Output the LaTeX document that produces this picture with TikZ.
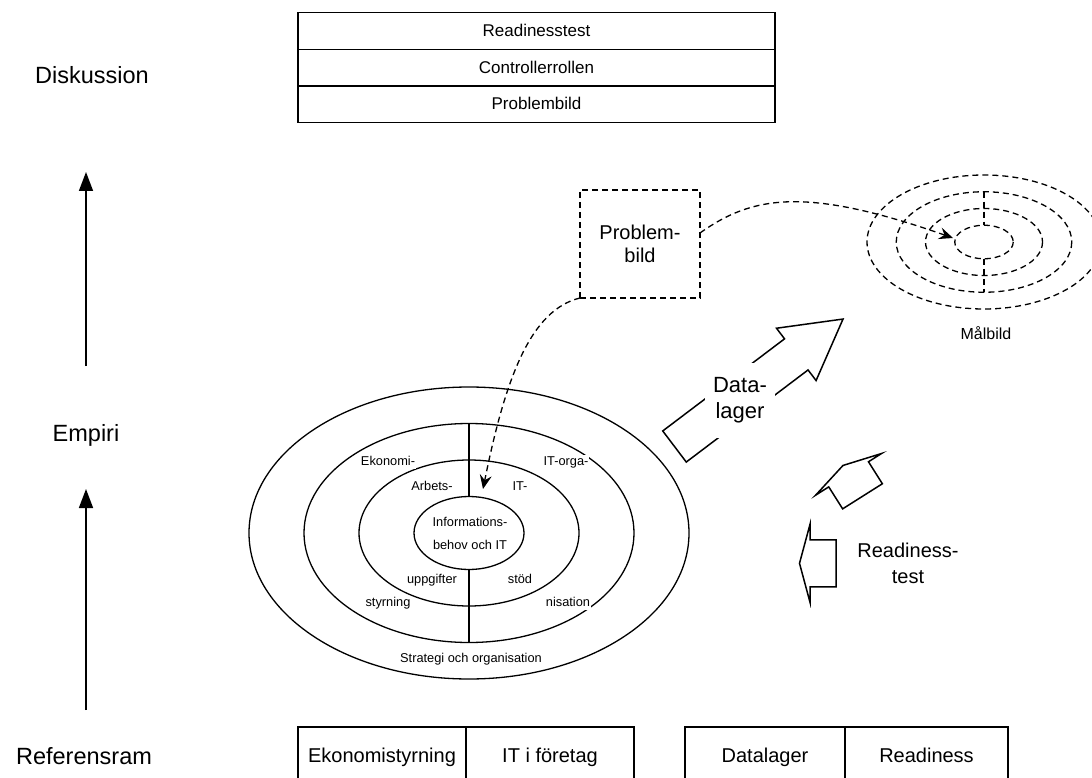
\documentclass[tikz,border=0pt]{standalone}
\usepackage{fontspec}
\setmainfont{Liberation Sans}
\usetikzlibrary{arrows.meta}
\begin{document}
\begin{tikzpicture}[x=1pt, y=-1pt, line width=1.3pt,
  every node/.style={inner sep=0pt, outer sep=0pt},
  side/.style={font=\fontsize{23.5}{27}\selectfont, text height=17pt, text depth=5pt},
  tablerow/.style={draw, line width=1.5pt, minimum width=477pt, minimum height=36.7pt,
    font=\fontsize{17}{20}\selectfont, text height=12.3pt, text depth=1.5pt},
  refbox/.style={draw, line width=1.5pt, minimum height=60pt,
    font=\fontsize{20}{23}\selectfont, text height=14.5pt, text depth=4.2pt},
  ring/.style={draw, line width=1.3pt},
  ringtxt/.style={fill=white, inner sep=0.6pt, font=\fontsize{12.8}{15}\selectfont,
    text height=9.3pt, text depth=2.7pt},
  dashline/.style={line width=1.3pt, dash pattern=on 6pt off 4pt},
  dasharrow/.style={dashline, -{Stealth[length=14pt, width=12pt, inset=5pt]}},
  stagearrow/.style={line width=1.5pt, -{Triangle[length=19pt, width=14pt]}},
  blockarrow/.style={draw, line width=1.5pt, line join=miter},
  bigtxt/.style={align=center, font=\fontsize{20}{23}\selectfont},
  pics/fatarrow/.style={code={
    \draw[blockarrow] (0,-23.5) -- (26,-23.5) -- (26,-39) -- (36.5,0)
      -- (26,39) -- (26,23.5) -- (0,23.5) -- cycle;}},
]
\clip (0,0) rectangle (1092,778);

% stage labels on the left
\node[side] (disk) at (92,78) {Diskussion};
\node[side] (emp) at (86,435) {Empiri};
\node[side] (ref) at (84,758) {Referensram};
\coordinate (a1s) at (86,366);
\coordinate (a1e) at (86,172);
\coordinate (a2s) at (86,710);
\coordinate (a2e) at (86,489);
\draw[stagearrow] (a1s) -- (a1e);
\draw[stagearrow] (a2s) -- (a2e);

% discussion table
\node[tablerow] (r1) at (536.5,31) {Readinesstest};
\node[tablerow] (r2) at (536.5,67.7) {Controllerrollen};
\node[tablerow] (r3) at (536.5,104.4) {Problembild};

% frame of reference boxes (open towards the lower edge)
\node[refbox, minimum width=168pt] (b1) at (382,757) {Ekonomistyrning};
\node[refbox, minimum width=168pt] (b2) at (550,757) {IT i företag};
\node[refbox, minimum width=160pt] (b3) at (765,757) {Datalager};
\node[refbox, minimum width=163pt] (b4) at (926.5,757) {Readiness};

% concentric model
\draw[ring] (469,533) ellipse [x radius=220, y radius=146];
\draw[ring] (469,533) ellipse [x radius=165, y radius=109.5];
\draw[ring] (469,533) ellipse [x radius=110, y radius=73];
\draw[ring] (469,533) ellipse [x radius=55, y radius=36.5];
\draw (469,423.5) -- (469,496.5);
\draw (469,569.5) -- (469,642.5);
\node[ringtxt] (t1) at (388,462) {Ekonomi-};
\node[ringtxt] (t2) at (566,462) {IT-orga-};
\node[ringtxt] (t3) at (432,487) {Arbets-};
\node[ringtxt] (t4) at (520,487) {IT-};
\node[ringtxt] (t5) at (470,523) {Informations-};
\node[ringtxt] (t6) at (470,546) {behov och IT};
\node[ringtxt] (t7) at (432,580) {uppgifter};
\node[ringtxt] (t8) at (520,580) {stöd};
\node[ringtxt] (t9) at (388,603) {styrning};
\node[ringtxt] (t10) at (568,603) {nisation};
\node[ringtxt] (t11) at (471,659) {Strategi och organisation};

% problem picture
\node[draw, dashline, minimum width=120pt, minimum height=108pt, bigtxt] (pb) at (640,244) {Problem-\\bild};

% target picture
\draw[dashline] (984,242) ellipse [x radius=117, y radius=67];
\draw[dashline] (984,242) ellipse [x radius=87.75, y radius=50.25];
\draw[dashline] (984,242) ellipse [x radius=58.5, y radius=33.5];
\draw[dashline] (984,242) ellipse [x radius=29.25, y radius=16.75];
\draw[dashline] (984,191.75) -- (984,225.25);
\draw[dashline] (984,258.75) -- (984,292.25);
\node[font=\fontsize{16}{19}\selectfont] (mb) at (986,333) {Målbild};

% dashed links
\coordinate (inTip) at (483,489);
\coordinate (malTip) at (953,238);
\draw[dasharrow] (pb.south west) .. controls (530,310) and (505,380) .. (inTip);
\draw[dasharrow] ([yshift=11pt]pb.east) .. controls (752,196) and (805,186) .. (malTip);

% data warehouse arrow
\draw[blockarrow, shift={(674.5,446.5)}, rotate=37.1]
  (0,-19.5) -- (152.7,-19.5) -- (152.7,-32.8) -- (211.3,0)
  -- (152.7,32.8) -- (152.7,19.5) -- (0,19.5) -- cycle;
\node[fill=white, minimum width=70pt, minimum height=75pt, align=center,
  font=\fontsize{22}{26}\selectfont] (dl) at (740,400) {Data-\\lager};

% readiness arrows
\pic[rotate=122.3] at (862.5,496.3) {fatarrow};
\pic[rotate=180] at (836,563.3) {fatarrow};
\node[align=center, font=\fontsize{20}{26}\selectfont] (rt) at (908,563) {Readiness-\\test};
\end{tikzpicture}
\end{document}
